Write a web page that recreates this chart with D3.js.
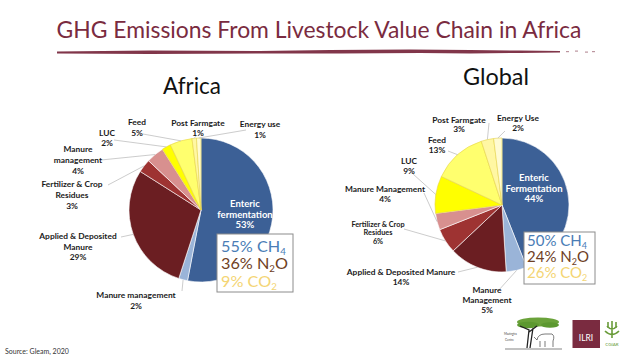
<!DOCTYPE html>
<html>
<head>
<meta charset="utf-8">
<script src="https://cdn.jsdelivr.net/npm/d3@7"></script>
<style>
  html, body { margin: 0; padding: 0; background: #fff; }
  svg { display: block; }
  text { font-family: Lato, "Open Sans", sans-serif; }
</style>
</head>
<body>
<svg id="chart" width="638" height="359"></svg>
<script>
// ---------- DATA ----------
const africaCategories = ["Enteric|fermentation", "Manure management", "Applied & Deposited|Manure", "Fertilizer & Crop|Residues", "Manure|management", "LUC", "Feed", "Post Farmgate", "Energy use"];
const africaValues = [53, 2, 29, 3, 4, 2, 5, 1, 1];
const globalCategories = ["Enteric|Fermentation", "Manure|Management", "Applied & Deposited Manure", "Fertilizer & Crop|Residues", "Manure Management", "LUC", "Feed", "Post Farmgate", "Energy Use"];
const globalValues = [44, 5, 14, 6, 4, 9, 13, 3, 2];
const gasNames = [["CH", "4", ""], ["N", "2", "O"], ["CO", "2", ""]];
const africaGasShares = [55, 36, 9];
const globalGasShares = [50, 24, 26];
const chartTitles = ["Africa", "Global"];
const mainTitle = "GHG Emissions From Livestock Value Chain in Africa";
const sourceNote = "Source: Gleam, 2020";

// ---------- STYLE / LAYOUT ----------
const sliceColors = ["#3c6096", "#9ab4d8", "#6b1e22", "#9e3332", "#d8908f", "#ffff00", "#ffff6e", "#fff7a3", "#fffbd2"];
const gasColors = ["#4a7db6", "#6e4024", "#f4d574"];
const maroon = "#7a2b40";

const africaLayout = {
  cx: 201, cy: 210, r: 72, title: {x: 192, y: 94, w: 58},
  box: {x: 217, y: 234, w: 76, h: 58, tx: 221, ty: [251.5, 269, 286.5], tw: 67},
  labels: [
    {x: 245, y: [207, 217.5, 228], inside: true},
    {x: 136, y: [298, 309], from: [182, 291]},
    {x: 78, y: [239, 249.5, 260], from: [121, 237]},
    {x: 72, y: [187, 198, 208.5], from: [108, 185]},
    {x: 78, y: [152, 163, 173.5], from: [101, 160]},
    {x: 107, y: [136, 146], from: [114, 140]},
    {x: 137, y: [125, 135.5], from: [143, 134]},
    {x: 198, y: [126, 136], from: [196, 136]},
    {x: 260, y: [127, 137.5], from: [246, 130]}
  ]
};
const globalLayout = {
  cx: 502, cy: 205, r: 67, title: {x: 496, y: 85, w: 66},
  box: {x: 524, y: 232, w: 71, h: 52, tx: 527, ty: [245.5, 262, 278], tw: 62},
  labels: [
    {x: 534, y: [181, 191.5, 202], inside: true},
    {x: 487, y: [293, 303, 312.5], from: [498, 291]},
    {x: 401, y: [275, 285], from: [458, 272]},
    {x: 378, y: [226.5, 234.8, 243.5], from: [404, 229], small: true},
    {x: 385, y: [192, 202], from: [424, 193]},
    {x: 409, y: [164, 174], from: [413, 174]},
    {x: 437, y: [143, 153], from: [448, 151]},
    {x: 459, y: [123, 132], from: [489, 123]},
    {x: 518, y: [121, 131], from: [505, 131]}
  ]
};

const svg = d3.select("#chart");

// ---------- TITLE ----------
function fitText(sel, targetW) {
  const w = sel.node().getComputedTextLength();
  const fs = parseFloat(sel.attr("font-size"));
  sel.attr("font-size", fs * targetW / w);
}
const title = svg.append("text")
  .attr("x", 319).attr("y", 38)
  .attr("text-anchor", "middle")
  .attr("font-size", 26)
  .attr("fill", maroon)
  .text(mainTitle);
fitText(title, 525);

// brush-stroke underline
const strokePts = [[57, 51.5], [150, 50.5], [260, 51], [330, 50], [410, 49.5], [470, 50], [520, 50.5], [560, 51],
                   [560, 52.5], [520, 53], [470, 53.5], [420, 53], [340, 53.5], [260, 53.5], [150, 54], [57, 53.5]];
svg.append("path")
  .attr("d", d3.line()(strokePts) + "Z")
  .attr("fill", maroon).attr("opacity", 0.95);
[[566, 51], [575, 50.5], [585, 51.5], [592, 51]].forEach(p => {
  svg.append("rect").attr("x", p[0]).attr("y", p[1]).attr("width", 3).attr("height", 1.2)
    .attr("fill", maroon).attr("opacity", 0.5);
});

// ---------- PIES ----------
function drawGasLines(B, shares, fs) {
  const g = svg.append("g");
  shares.forEach((s, k) => {
    const gt = g.append("text")
      .attr("x", B.tx).attr("y", B.ty[k])
      .attr("font-size", fs).attr("fill", gasColors[k]);
    gt.append("tspan").text(s + "% " + gasNames[k][0]);
    gt.append("tspan").attr("dy", fs * 0.2).attr("font-size", fs * 0.6).text(gasNames[k][1]);
    if (gasNames[k][2]) gt.append("tspan").attr("dy", -fs * 0.2).text(gasNames[k][2]);
  });
  return g;
}

function drawPie(categories, values, shares, layout, name) {
  const g = svg.append("g").attr("transform", `translate(${layout.cx},${layout.cy})`);
  const pie = d3.pie().sort(null).value(d => d)(values);
  const arc = d3.arc().innerRadius(0).outerRadius(layout.r);
  const edgeArc = d3.arc().innerRadius(layout.r).outerRadius(layout.r);

  g.selectAll("path.slice").data(pie).join("path")
    .attr("class", "slice")
    .attr("d", arc)
    .attr("fill", (d, i) => sliceColors[i])
    .attr("stroke", (d, i) => i >= 5 ? "#e6d34a" : "#ffffff")
    .attr("stroke-width", 0.6);

  // heading
  const t = svg.append("text")
    .attr("x", layout.title.x).attr("y", layout.title.y)
    .attr("text-anchor", "middle")
    .attr("font-size", 26).attr("fill", "#111")
    .text(name);
  fitText(t, layout.title.w);

  // labels
  pie.forEach((d, i) => {
    const L = layout.labels[i];
    const lines = categories[i].split("|").concat([values[i] + "%"]);
    if (L.from) {
      const e = edgeArc.centroid(d);
      svg.append("line")
        .attr("x1", L.from[0]).attr("y1", L.from[1])
        .attr("x2", layout.cx + e[0]).attr("y2", layout.cy + e[1])
        .attr("stroke", "#bfbfbf").attr("stroke-width", 0.8);
    }
    const txt = svg.append("text")
      .attr("text-anchor", "middle")
      .attr("font-weight", 700)
      .attr("font-size", L.inside ? 9.5 : (L.small ? 7.3 : 8.4))
      .attr("fill", L.inside ? "#ffffff" : "#1a1a1a");
    lines.forEach((ln, k) => {
      txt.append("tspan").attr("x", L.x).attr("y", L.y[k]).text(ln);
    });
  });

  // gas box
  const B = layout.box;
  svg.append("rect")
    .attr("x", B.x).attr("y", B.y).attr("width", B.w).attr("height", B.h)
    .attr("fill", "#ffffff").attr("stroke", "#8c8c8c").attr("stroke-width", 1);
  const probe = drawGasLines(B, shares, 14);
  let maxW = 0;
  probe.selectAll("text").each(function () { maxW = Math.max(maxW, this.getBBox().width); });
  probe.remove();
  drawGasLines(B, shares, 14 * B.tw / maxW);
}

drawPie(africaCategories, africaValues, africaGasShares, africaLayout, chartTitles[0]);
drawPie(globalCategories, globalValues, globalGasShares, globalLayout, chartTitles[1]);

// ---------- SOURCE ----------
svg.append("text").attr("x", 5).attr("y", 354)
  .attr("font-size", 7).attr("fill", "#333").text(sourceNote);

// ---------- LOGOS ----------
const logo = svg.append("g");
// Mazingira tree
logo.append("ellipse").attr("cx", 538).attr("cy", 322).attr("rx", 21).attr("ry", 4.5).attr("fill", "#6aa23a");
logo.append("ellipse").attr("cx", 528).attr("cy", 325).attr("rx", 11).attr("ry", 3.2).attr("fill", "#5c9830");
logo.append("ellipse").attr("cx", 550).attr("cy", 325).attr("rx", 9).attr("ry", 2.8).attr("fill", "#5c9830");
logo.append("path").attr("d", "M527,348 L529,330 L520,326 M529,332 L537,326 M530,348 L533,328")
  .attr("stroke", "#222").attr("stroke-width", 1.3).attr("fill", "none");
logo.append("path").attr("d", "M537,340 Q538,334 545,334 L552,334 Q555,336 553,341 L553,347 M540,341 L540,347 M545,341 L545,347 M537,340 L534,337")
  .attr("stroke", "#444").attr("stroke-width", 0.7).attr("fill", "none");
logo.append("line").attr("x1", 505).attr("x2", 562).attr("y1", 349).attr("y2", 349).attr("stroke", "#333").attr("stroke-width", 0.6);
logo.append("text").attr("x", 504).attr("y", 335).attr("font-size", 3).attr("fill", "#444").text("Mazingira");
logo.append("text").attr("x", 505).attr("y", 341).attr("font-size", 3).attr("fill", "#444").text("Centre");
// ILRI
logo.append("rect").attr("x", 572.5).attr("y", 320).attr("width", 27.5).attr("height", 28).attr("fill", "#7a2b40");
logo.append("text").attr("x", 586).attr("y", 341).attr("text-anchor", "middle").attr("font-size", 8.5).attr("fill", "#fff").text("ILRI");
// CGIAR
logo.append("path").attr("d", "M612,321 L612,338 M607,326 Q612,332 617,326 M605,331 Q612,338 619,331 M608,322 L608,328 M616,322 L616,328")
  .attr("stroke", "#6a9c3a").attr("stroke-width", 1.6).attr("fill", "none");
logo.append("text").attr("x", 612).attr("y", 346).attr("text-anchor", "middle").attr("font-size", 4.5).attr("fill", "#6a9c3a").text("CGIAR");
</script>
</body>
</html>
